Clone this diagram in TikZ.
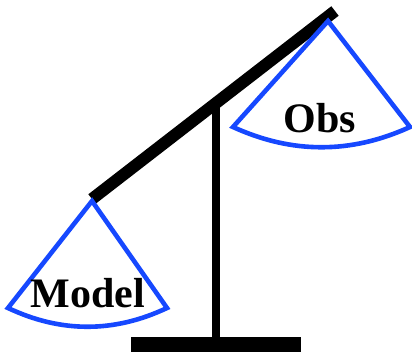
\documentclass[tikz,border=0pt]{standalone}
\usepackage{fontspec}
\setmainfont{Liberation Serif}
\usepackage{tikz}
\definecolor{panblue}{RGB}{22,72,255}
\def\beamwidth{12pt}
\def\panwidth{4.6pt}

\begin{document}
\begin{tikzpicture}[x=1pt,y=-1pt]
            \tikzstyle{beam}=[line width=\beamwidth,draw=black]
            \tikzstyle{post}=[line width=8pt,draw=black]
            \tikzstyle{pan}=[line width=\panwidth,draw=panblue,line join=miter]
            \tikzstyle{weight}=[anchor=base,inner sep=0pt,font=\fontsize{42}{42}\selectfont\bfseries]

            \useasboundingbox (0,0) rectangle (412,352);

            % Stand: base plate and upright
            \fill[black] (131,337) rectangle (301,352);
            \coordinate (foot) at (216,340);
            \coordinate (head) at (216,104);
            \draw[post] (foot) -- (head);

            % Tilted beam, low end carries the left pan
            \coordinate (L-hook) at (92,199);
            \coordinate (R-hook) at (335,11);
            \draw[beam] (L-hook) -- (R-hook);

            % Left pan (heavy side)
            \coordinate (L-top) at (92,201);
            \coordinate (L-a) at (8,308);
            \coordinate (L-b) at (167,308);
            \draw[pan] (L-a) -- (L-top) -- (L-b)
                .. controls (114,333) and (61,333) .. cycle;

            % Right pan (light side)
            \coordinate (R-top) at (328,21);
            \coordinate (R-a) at (233,127);
            \coordinate (R-b) at (410,127);
            \draw[pan] (R-a) -- (R-top) -- (R-b)
                .. controls (351,154) and (292,154) .. cycle;

            \node[weight] (model) at (88,308) {Model};
            \node[weight] (obs) at (320,133) {Obs};
        \end{tikzpicture}
\end{document}
